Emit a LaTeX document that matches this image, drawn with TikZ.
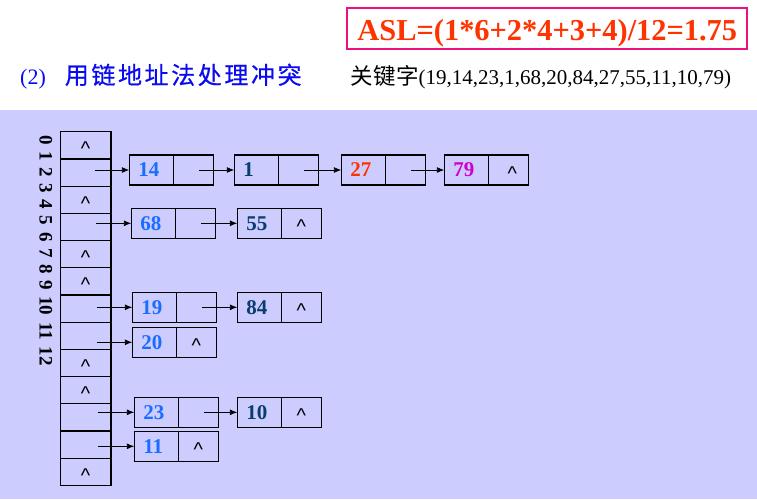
\documentclass[tikz,border=0pt]{standalone}
\usepackage{fontspec}
\setmainfont{Liberation Serif}
\newfontfamily\cjk{Noto Sans CJK SC}
\newfontfamily\cjkt[FakeBold=0.6]{Noto Sans CJK SC}
\newfontfamily\sansf{Liberation Sans}
\usetikzlibrary{arrows.meta,calc}
\definecolor{bgc}{HTML}{CCCCFF}
\definecolor{aslc}{HTML}{FF3300}
\definecolor{boxc}{HTML}{EC1080}
\definecolor{ttl}{HTML}{0A0AF0}
\definecolor{kblue}{HTML}{1A6EFF}
\definecolor{knavy}{HTML}{0A3D6E}
\definecolor{kred}{HTML}{FF3300}
\definecolor{kmag}{HTML}{CC00CC}
\newcommand\nul{\textasciicircum}
\newcommand\cjs{\hspace{2.6pt}}
\begin{document}
\begin{tikzpicture}[x=1pt,y=-1pt,
 cell/.style={draw, line width=1.2pt, outer sep=0pt, minimum width=50.7pt, minimum height=27.2pt, inner sep=0pt, font=\sansf\fontsize{20}{20}\selectfont, text height=20.8pt, text depth=0pt},
 dat/.style={draw, line width=1.2pt, outer sep=0pt, minimum height=30pt, inner xsep=9pt, inner ysep=0pt, text width=26pt, align=left, font=\bfseries\fontsize{21}{21}\selectfont, anchor=north west},
 ptr/.style={draw, line width=1.2pt, outer sep=0pt, minimum height=30pt, minimum width=40pt, inner sep=0pt, font=\sansf\fontsize{20}{20}\selectfont, text height=20.8pt, text depth=0pt, anchor=west},
 arr/.style={-{Latex[length=7.5pt,width=6pt]}, line width=0.9pt}]
\useasboundingbox (0,0) rectangle (757,499);
\fill[white] (0,0) rectangle (757,499);
\fill[bgc] (0,110) rectangle (757,499);

% headings
\node[draw=boxc, line width=2pt, text=aslc, font=\bfseries\fontsize{30.4}{30.4}\selectfont,
  minimum width=400pt, minimum height=41pt, inner sep=0pt, text height=23.8pt, text depth=0pt]
  (asl) at (547.3,28.8) {ASL=(1*6+2*4+3+4)/12=1.75};
\node[anchor=base west, inner sep=0pt, text=ttl, font=\fontsize{22}{22}\selectfont]
  (title) at (20,84) {(2)\hspace{19pt}{\cjkt\fontsize{24}{24}\selectfont 用\cjs 链\cjs 地\cjs 址\cjs 法\cjs 处\cjs 理\cjs 冲\cjs 突}};
\node[anchor=base west, inner sep=0pt, font=\fontsize{21}{21}\selectfont]
  (keys) at (350,84) {{\cjk\fontsize{22.5}{22.5}\selectfont 关\hspace{0.5pt}键\hspace{0.5pt}字}(19,14,23,1,68,20,84,27,55,11,10,79)};

% index labels
\node[rotate=-90, inner sep=0pt, font=\bfseries\fontsize{19}{19}\selectfont]
  (idx) at (45.8,250.5) {\spaceskip=6.6pt\relax 0 1 2 3 4 5 6 7 8 9 10 11 12};

% hash table
\node[cell] (h0)  at (85.65,145.3) {\nul\hspace{9pt}};
\node[cell] (h1)  at (85.65,172.5) {};
\node[cell] (h2)  at (85.65,199.7) {\nul\hspace{9pt}};
\node[cell] (h3)  at (85.65,226.9) {};
\node[cell] (h4)  at (85.65,254.1) {\nul\hspace{9pt}};
\node[cell] (h5)  at (85.65,281.3) {\nul\hspace{9pt}};
\node[cell] (h6)  at (85.65,308.5) {};
\node[cell] (h7)  at (85.65,335.7) {};
\node[cell] (h8)  at (85.65,362.9) {\nul\hspace{9pt}};
\node[cell] (h9)  at (85.65,390.1) {\nul\hspace{9pt}};
\node[cell] (h10) at (85.65,417.3) {};
\node[cell] (h11) at (85.65,444.5) {};
\node[cell] (h12) at (85.65,471.7) {\nul\hspace{9pt}};

% chain 1
\node[dat,text=kblue] (k14) at (129.3,155) {14};
\node[ptr] (p14) at (k14.east) {};
\node[dat,text=knavy] (k1) at (234.3,155) {1};
\node[ptr] (p1) at (k1.east) {};
\node[dat,text=kred] (k27) at (341.3,155) {27};
\node[ptr] (p27) at (k27.east) {};
\node[dat,text=kmag] (k79) at (444.3,155) {79};
\node[ptr] (p79) at (k79.east) {\hspace{8pt}\nul};
% chain 3
\node[dat,text=kblue] (k68) at (131.3,208.3) {68};
\node[ptr] (p68) at (k68.east) {};
\node[dat,text=knavy] (k55) at (237.3,208.3) {55};
\node[ptr] (p55) at (k55.east) {\nul};
% chain 6
\node[dat,text=kblue] (k19) at (132.3,292.3) {19};
\node[ptr] (p19) at (k19.east) {};
\node[dat,text=knavy] (k84) at (237.3,292.3) {84};
\node[ptr] (p84) at (k84.east) {\nul};
% chain 7
\node[dat,text=kblue] (k20) at (132.3,327.3) {20};
\node[ptr] (p20) at (k20.east) {\nul};
% chain 10
\node[dat,text=kblue] (k23) at (134.3,397.3) {23};
\node[ptr] (p23) at (k23.east) {};
\node[dat,text=knavy] (k10) at (237.3,397.3) {10};
\node[ptr] (p10) at (k10.east) {\nul};
% chain 11
\node[dat,text=kblue] (k11) at (134.3,431.3) {11};
\node[ptr] (p11) at (k11.east) {\nul};

% arrows from table
\draw[arr] (k14.west -| h1.center) ++(9,0) -- (k14.west);
\draw[arr] (k68.west -| h3.center) ++(10,0) -- (k68.west);
\draw[arr] (k19.west -| h6.center) ++(11,0) -- (k19.west);
\draw[arr] (k20.west -| h7.center) ++(11,0) -- (k20.west);
\draw[arr] (k23.west -| h10.center) ++(12,0) -- (k23.west);
\draw[arr] (k11.west -| h11.center) ++(12,0) -- (k11.west);
% arrows along chains
\draw[arr] (p14.center) ++(6,0) -- (k1.west);
\draw[arr] (p1.center) ++(6,0) -- (k27.west);
\draw[arr] (p27.center) ++(6,0) -- (k79.west);
\draw[arr] (p68.center) ++(6,0) -- (k55.west);
\draw[arr] (p19.center) ++(6,0) -- (k84.west);
\draw[arr] (p23.center) ++(6,0) -- (k10.west);
\end{tikzpicture}
\end{document}
